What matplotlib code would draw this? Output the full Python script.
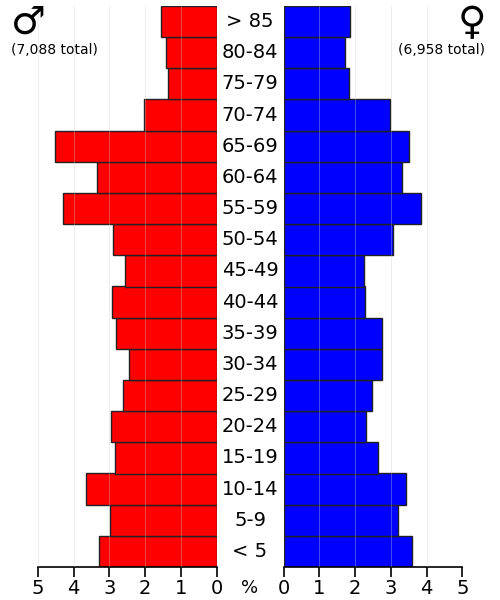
import matplotlib
matplotlib.use("Agg")
import matplotlib.pyplot as plt
import numpy as np

ages = ["< 5", "5-9", "10-14", "15-19", "20-24", "25-29", "30-34", "35-39",
        "40-44", "45-49", "50-54", "55-59", "60-64", "65-69", "70-74",
        "75-79", "80-84", "> 85"]
male = [3.29, 2.97, 3.65, 2.85, 2.95, 2.62, 2.46, 2.81, 2.92, 2.56,
        2.90, 4.30, 3.35, 4.53, 2.03, 1.35, 1.42, 1.55]
female = [3.59, 3.20, 3.43, 2.63, 2.31, 2.48, 2.76, 2.75, 2.28, 2.26,
          3.05, 3.85, 3.32, 3.52, 2.98, 1.83, 1.72, 1.86]
ticks = [0, 1, 2, 3, 4, 5]

fig = plt.figure(figsize=(5, 6), dpi=100)
axl = fig.add_axes([0.0754, 0.055, 0.358, 0.935])
axr = fig.add_axes([0.5674, 0.055, 0.3572, 0.935])

y = np.arange(len(ages))
axl.barh(y, male, height=1, color="#ff0000", edgecolor="#222222", linewidth=1, zorder=2)
axr.barh(y, female, height=1, color="#0000ff", edgecolor="#222222", linewidth=1, zorder=2)

for ax in (axl, axr):
    ax.set_xlim(0, 5)
    ax.set_ylim(-0.5, len(ages) - 0.5)
    for s in ("top", "left", "right"):
        ax.spines[s].set_visible(False)
    ax.spines["bottom"].set_linewidth(1.2)
    ax.set_yticks([])
    ax.set_xticks(ticks)
    ax.set_xticklabels([str(t) for t in ticks], fontsize=14)
    ax.tick_params(axis="x", length=7, width=1.2, pad=2)
    for t in ticks[1:]:
        ax.axvline(t, color="#cccccc", lw=0.7, alpha=0.35, zorder=3)
axl.invert_xaxis()

for i, a in enumerate(ages):
    fig.text(0.5, 0.055 + 0.935 * (i + 0.5) / len(ages), a, ha="center",
             va="center", fontsize=14)
fig.text(0.5, 0.02, "%", ha="center", va="center", fontsize=13)

fig.text(0.056, 0.962, "\u2642", ha="center", va="center", fontsize=28)
fig.text(0.108, 0.917, "(7,088 total)", ha="center", va="center", fontsize=10)
fig.text(0.944, 0.962, "\u2640", ha="center", va="center", fontsize=28)
fig.text(0.882, 0.917, "(6,958 total)", ha="center", va="center", fontsize=10)

fig.savefig("out.png", dpi=100)
